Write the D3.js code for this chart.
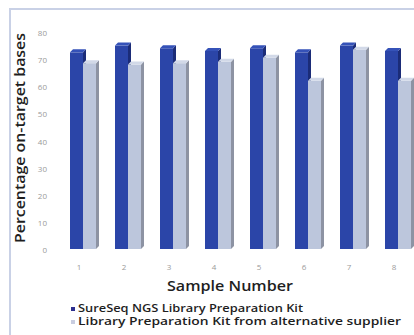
<!DOCTYPE html>
<html>
<head>
<meta charset="utf-8">
<script src="https://cdn.jsdelivr.net/npm/d3@7"></script>
<style>
  html, body { margin: 0; padding: 0; background: #ffffff; }
  svg { display: block; }
</style>
</head>
<body>
<svg id="chart" width="414" height="335"></svg>
<script>
// Sample numbers along the x axis
const samples = ["1", "2", "3", "4", "5", "6", "7", "8"];
// Percentage of on-target bases per sample
const sureSeq = [72.5, 75, 74, 73, 74, 72.5, 75, 73];
const altSupplier = [68.5, 68, 68.5, 69, 70.5, 62, 73.5, 62];
// Y axis ticks
const yTicks = [0, 10, 20, 30, 40, 50, 60, 70, 80];
const seriesNames = [
  "SureSeq NGS Library Preparation Kit",
  "Library Preparation Kit from alternative supplier"
];

const svg = d3.select("#chart");

// Light frame round the plot area
svg.append("path")
  .attr("d", "M10,335 L10,9 L414,9")
  .attr("fill", "none")
  .attr("stroke", "#c9d1e6")
  .attr("stroke-width", 2);

const x = d3.scaleBand().domain(samples).range([60, 420]).padding(0);
const y = d3.scaleLinear().domain([0, 80]).range([249, 32]);

const depth = 3;
const barW = 13;

const styles = [
  { front: "#2b45a8", side: "#1b2c78", top: "#3552b8", offset: 10 },
  { front: "#bcc6dc", side: "#8d93a3", top: "#d2d9e8", offset: 23 }
];

// Draws one 3D column: front face, right side, top cap
function column(g, x0, v, st) {
  const yt = y(v), yb = y(0);
  g.append("rect")
    .attr("x", x0).attr("y", yt)
    .attr("width", barW).attr("height", yb - yt)
    .attr("fill", st.front);
  g.append("path")
    .attr("d", `M${x0 + barW},${yt} L${x0 + barW + depth},${yt - depth} L${x0 + barW + depth},${yb - depth} L${x0 + barW},${yb} Z`)
    .attr("fill", st.side);
  g.append("path")
    .attr("d", `M${x0},${yt} L${x0 + depth},${yt - depth} L${x0 + barW + depth},${yt - depth} L${x0 + barW},${yt} Z`)
    .attr("fill", st.top);
}

const bars = svg.append("g");
samples.forEach((s, i) => {
  const g = bars.append("g");
  column(g, x(s) + styles[0].offset, sureSeq[i], styles[0]);
  column(g, x(s) + styles[1].offset, altSupplier[i], styles[1]);
});

// Y tick labels
svg.append("g").selectAll("text")
  .data(yTicks)
  .join("text")
  .attr("x", 47)
  .attr("y", d => y(d) + 4)
  .attr("text-anchor", "end")
  .attr("font-family", "Open Sans, sans-serif")
  .attr("font-size", 8)
  .attr("fill", "#9a9a9a")
  .text(d => d);

// X tick labels
svg.append("g").selectAll("text")
  .data(samples)
  .join("text")
  .attr("x", d => x(d) + 19)
  .attr("y", 270)
  .attr("text-anchor", "middle")
  .attr("font-family", "Open Sans, sans-serif")
  .attr("font-size", 8)
  .attr("fill", "#9a9a9a")
  .text(d => d);

// Axis titles
svg.append("text")
  .attr("transform", "translate(25,138) rotate(-90)")
  .attr("text-anchor", "middle")
  .attr("font-family", "Open Sans, sans-serif")
  .attr("font-weight", 600)
  .attr("font-size", 15)
  .attr("fill", "#1e1e1e")
  .attr("textLength", 210)
  .attr("lengthAdjust", "spacingAndGlyphs")
  .text("Percentage on-target bases");

svg.append("text")
  .attr("x", 230)
  .attr("y", 291)
  .attr("text-anchor", "middle")
  .attr("font-family", "Open Sans, sans-serif")
  .attr("font-weight", 600)
  .attr("font-size", 15)
  .attr("fill", "#1e1e1e")
  .attr("textLength", 126)
  .attr("lengthAdjust", "spacingAndGlyphs")
  .text("Sample Number");

// Legend
const legendWidths = [225, 323];
const legend = svg.append("g");
seriesNames.forEach((name, i) => {
  const ly = 312 + i * 13;
  legend.append("rect")
    .attr("x", 71).attr("y", ly - 5)
    .attr("width", 4).attr("height", 4)
    .attr("fill", i === 0 ? "#2e2f8f" : "#c9cde0");
  legend.append("text")
    .attr("x", 78).attr("y", ly)
    .attr("font-family", "Open Sans, sans-serif")
    .attr("font-weight", 600)
    .attr("font-size", 10)
    .attr("fill", "#1e1e1e")
    .attr("textLength", legendWidths[i])
    .attr("lengthAdjust", "spacingAndGlyphs")
    .text(name);
});
</script>
</body>
</html>
